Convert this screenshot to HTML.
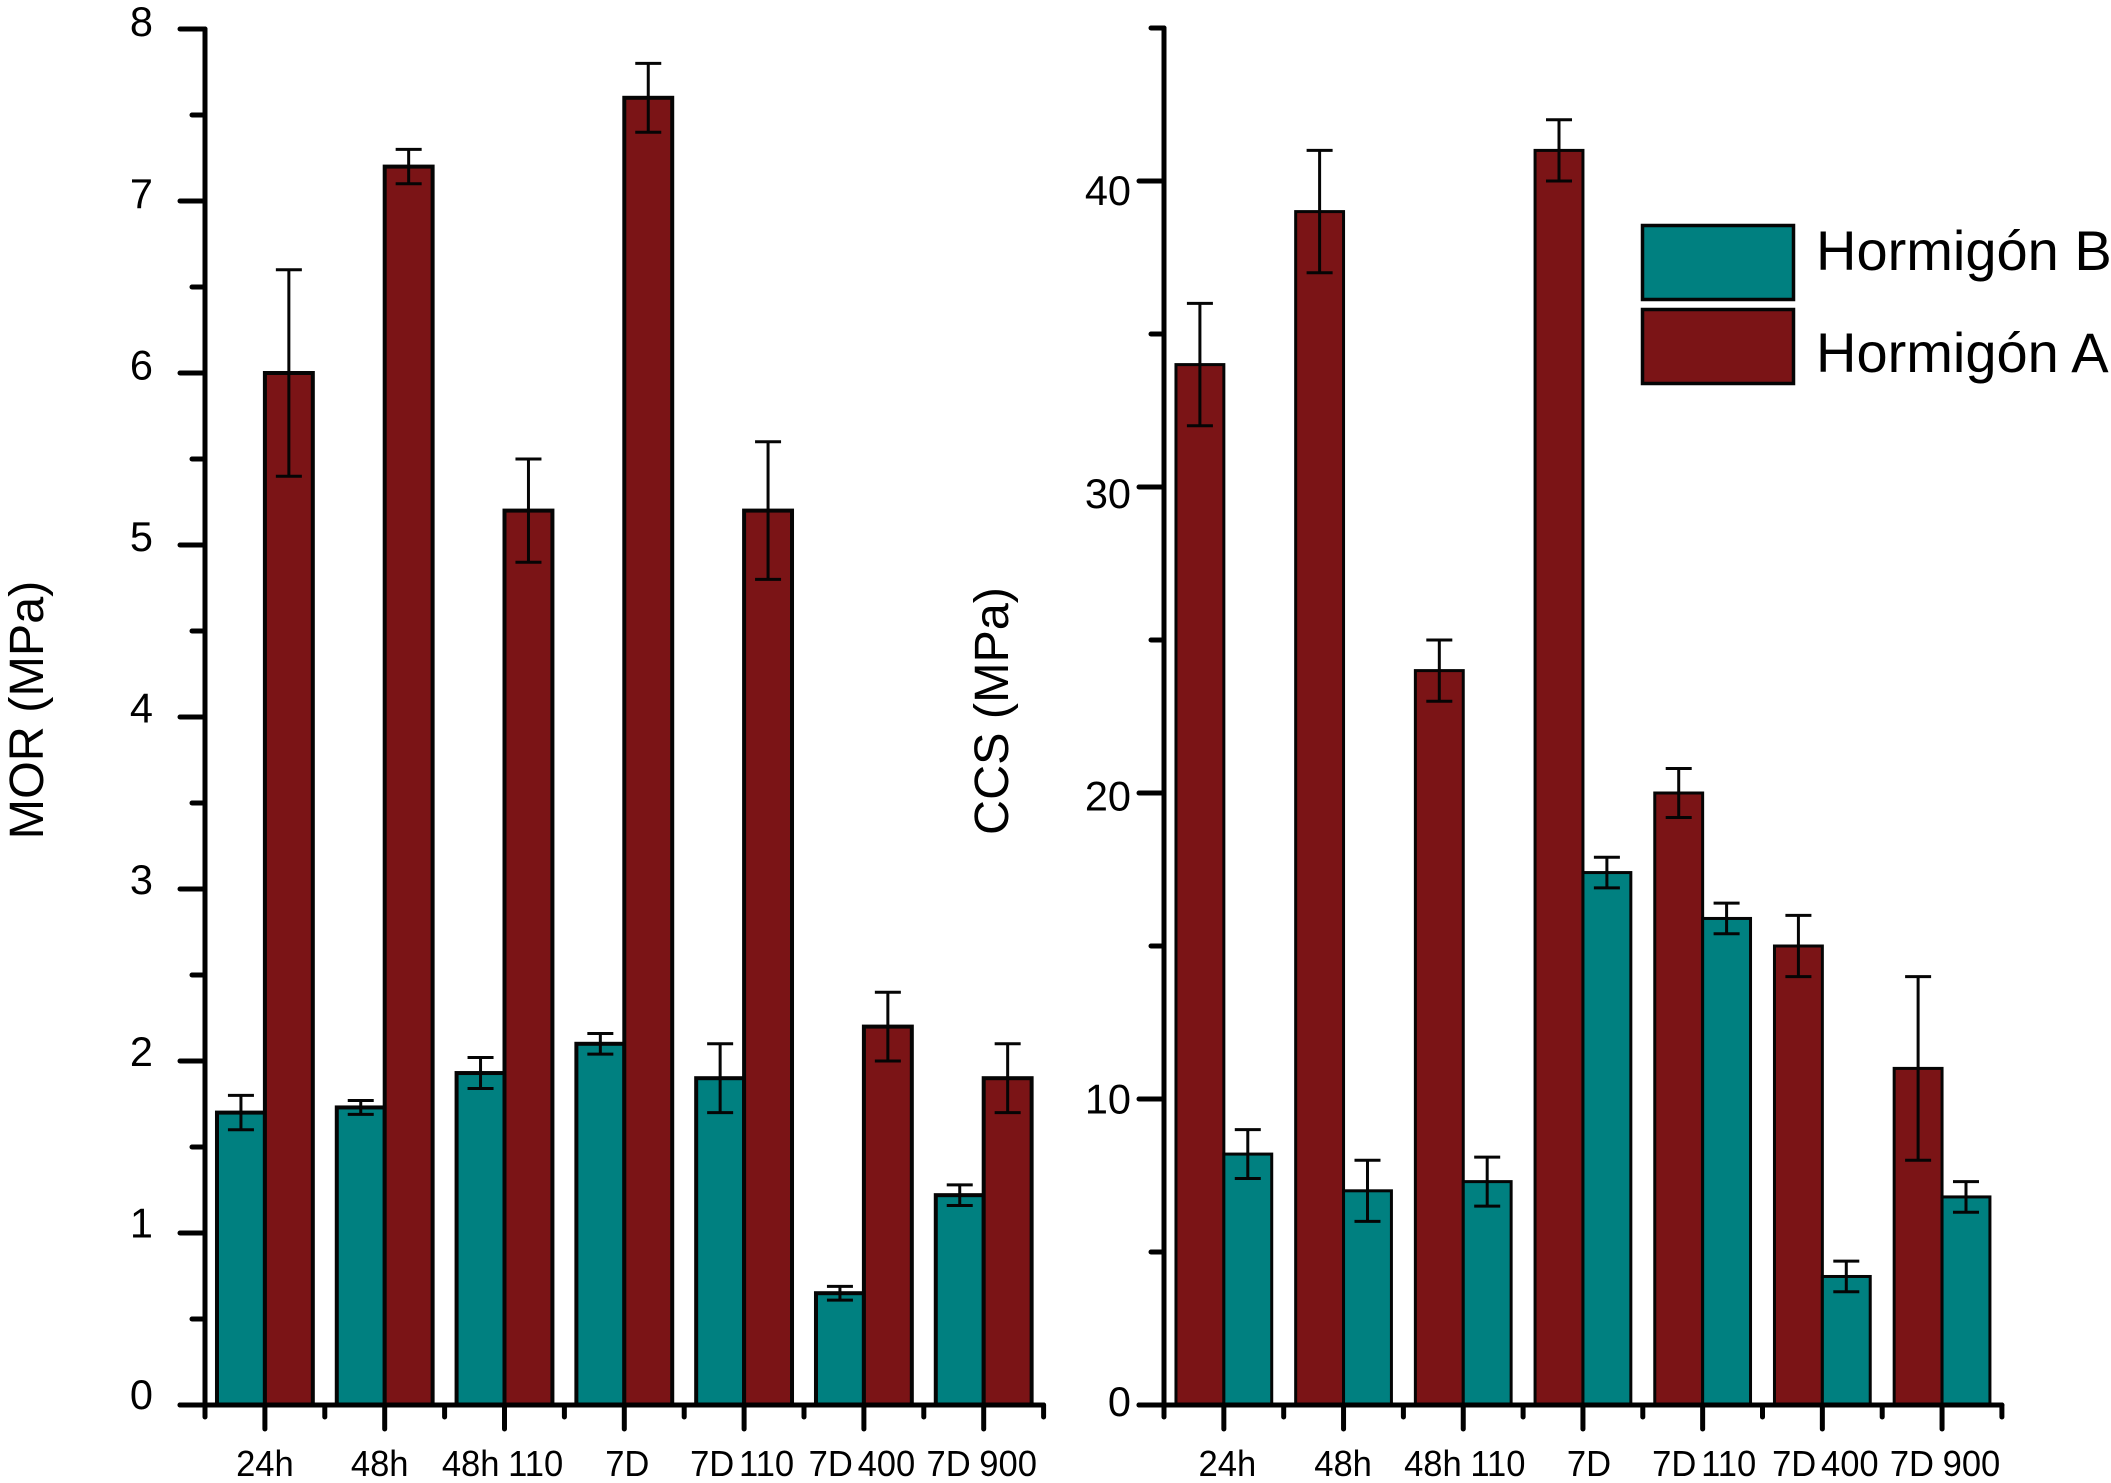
<!DOCTYPE html>
<html lang="es">
<head>
<meta charset="utf-8">
<title>MOR and CCS of Hormigón A and B</title>
<style>
html,body{margin:0;padding:0;background:#fff;}
svg{display:block;}
text{font-family:"Liberation Sans",sans-serif;fill:#000;}
</style>
</head>
<body>
<svg id="figure" xmlns="http://www.w3.org/2000/svg" width="2111" height="1483" viewBox="0 0 2111 1483">
  <g id="left-chart"></g>
  <g id="right-chart"></g>
  <text transform="translate(43 710) rotate(-90)" text-anchor="middle" font-size="48.5">MOR (MPa)</text>
  <text transform="translate(1008 711) rotate(-90)" text-anchor="middle" font-size="48.5">CCS (MPa)</text>
  <g>
    <rect x="1642.5" y="225.5" width="151" height="74" fill="#008080" stroke="#050505" stroke-width="3.5"/>
    <text x="1816" y="270" font-size="56">Hormigón B</text>
    <rect x="1642.5" y="309.5" width="151" height="74" fill="#7b1416" stroke="#050505" stroke-width="3.5"/>
    <text x="1816" y="372" font-size="56">Hormigón A</text>
  </g>
</svg>
<script>
const categories = ["24h", "48h", "48h 110", "7D", "7D 110", "7D 400", "7D 900"];

const morA = [6, 7.2, 5.2, 7.6, 5.2, 2.2, 1.9];
const morAUpper = [6.6, 7.3, 5.5, 7.8, 5.6, 2.4, 2.1];
const morALower = [5.4, 7.1, 4.9, 7.4, 4.8, 2.0, 1.7];
const morB = [1.7, 1.73, 1.93, 2.1, 1.9, 0.65, 1.22];
const morBUpper = [1.8, 1.77, 2.02, 2.16, 2.1, 0.69, 1.28];
const morBLower = [1.6, 1.69, 1.84, 2.04, 1.7, 0.61, 1.16];
const morMajorTicks = [0, 1, 2, 3, 4, 5, 6, 7, 8];
const morMinorTicks = [0.5, 1.5, 2.5, 3.5, 4.5, 5.5, 6.5, 7.5];

const ccsA = [34, 39, 24, 41, 20, 15, 11];
const ccsAUpper = [36, 41, 25, 42, 20.8, 16, 14];
const ccsALower = [32, 37, 23, 40, 19.2, 14, 8];
const ccsB = [8.2, 7, 7.3, 17.4, 15.9, 4.2, 6.8];
const ccsBUpper = [9, 8, 8.1, 17.9, 16.4, 4.7, 7.3];
const ccsBLower = [7.4, 6, 6.5, 16.9, 15.4, 3.7, 6.3];
const ccsMajorTicks = [0, 10, 20, 30, 40];
const ccsMinorTicks = [5, 15, 25, 35, 45];

const NS = "http://www.w3.org/2000/svg";
const INK = "#050505";
const TEAL = "#008080";
const RED = "#7b1416";

function make(parent, tag, attrs, name) {
  const el = document.createElementNS(NS, tag);
  for (const k in attrs) el.setAttribute(k, attrs[k]);
  
  
  parent.appendChild(el);
  return el;
}

function drawChart(cfg) {
  const g = document.getElementById(cfg.id);
  const y = v => cfg.y0 - v * cfg.unit;
  const xCat = i => cfg.x0 + (i + 0.5) * cfg.step;
  const barW = cfg.step * 0.4;

  /* bars */
  cfg.series.forEach(s => {
    s.values.forEach((v, i) => {
      const cx = xCat(i);
      const left = s.side < 0 ? cx - barW : cx;
      make(g, "rect", {x: left, y: y(v), width: barW, height: y(0) - y(v),
        fill: s.color, stroke: INK, "stroke-width": cfg.barStroke}, s.key + "-bar-" + i);
    });
  });

  /* error bars */
  cfg.series.forEach(s => {
    s.values.forEach((v, i) => {
      const ex = xCat(i) + s.side * barW / 2;
      const top = y(s.upper[i]), bot = y(s.lower[i]);
      const eg = make(g, "g", {stroke: INK, "stroke-width": 3, fill: "none"}, s.key + "-error-bar-" + i);
      make(eg, "line", {x1: ex, x2: ex, y1: top, y2: bot}, "error-stem");
      make(eg, "line", {x1: ex - 13, x2: ex + 13, y1: top, y2: top}, "error-cap-upper");
      make(eg, "line", {x1: ex - 13, x2: ex + 13, y1: bot, y2: bot}, "error-cap-lower");
    });
  });

  /* axes */
  const ax = make(g, "g", {stroke: "#000", "stroke-width": 5, "stroke-linecap": "round", fill: "none"}, cfg.key + "-axes");
  make(ax, "line", {x1: cfg.x0, x2: cfg.x0, y1: y(cfg.yMax), y2: y(0)}, cfg.key + "-y-axis-line");
  make(ax, "line", {x1: cfg.x0 - 25, x2: cfg.x0 + categories.length * cfg.step, y1: y(0), y2: y(0)}, cfg.key + "-x-axis-line");

  cfg.major.forEach(v => {
    make(ax, "line", {x1: cfg.x0 - 25, x2: cfg.x0, y1: y(v), y2: y(v)}, cfg.key + "-y-major-tick");
  });
  cfg.minor.forEach(v => {
    make(ax, "line", {x1: cfg.x0 - 13, x2: cfg.x0, y1: y(v), y2: y(v)}, cfg.key + "-y-minor-tick");
  });
  categories.forEach((c, i) => {
    make(ax, "line", {x1: xCat(i), x2: xCat(i), y1: y(0), y2: y(0) + 24}, cfg.key + "-x-major-tick");
  });
  for (let i = 0; i <= categories.length; i++) {
    const tx = cfg.x0 + i * cfg.step;
    make(ax, "line", {x1: tx, x2: tx, y1: y(0), y2: y(0) + 12}, cfg.key + "-x-minor-tick");
  }

  /* labels */
  cfg.major.forEach(v => {
    const t = make(g, "text", {x: cfg.labelX, y: cfg.labelY(v), "text-anchor": "end", "font-size": 41.5}, cfg.key + "-y-tick-label");
    t.textContent = String(v);
  });
  categories.forEach((c, i) => {
    const gap = c.startsWith("7D 1") || c.startsWith("7D 4") ? -5 : (c.includes(" ") ? -1 : 0);
    const t = make(g, "text", {
      transform: "translate(" + (xCat(i) + cfg.labelNudge(c)) + " 1476) scale(0.96 1)",
      "text-anchor": "middle", "font-size": 36, "word-spacing": gap
    }, cfg.key + "-x-tick-label");
    t.textContent = c;
  });
}

drawChart({
  id: "left-chart", key: "mor",
  x0: 205, step: 119.8, y0: 1405, unit: 172, yMax: 8, barStroke: 4,
  major: morMajorTicks, minor: morMinorTicks,
  labelX: 153, labelY: v => 1409 - v * 171.6,
  labelNudge: c => c === "24h" ? 0 : c === "48h" ? -5 : c === "7D" ? 3 : -2,
  series: [
    {key: "mor-hormigon-b", color: TEAL, side: -1, values: morB, upper: morBUpper, lower: morBLower},
    {key: "mor-hormigon-a", color: RED, side: 1, values: morA, upper: morAUpper, lower: morALower}
  ]
});

drawChart({
  id: "right-chart", key: "ccs",
  x0: 1164, step: 119.7, y0: 1405, unit: 30.6, yMax: 45, barStroke: 3,
  major: ccsMajorTicks, minor: ccsMinorTicks,
  labelX: 1131, labelY: v => 1416 - v * 30.27,
  labelNudge: c => c === "24h" ? 3.5 : c === "48h" ? -0.5 : c === "7D" ? 6 : (c === "7D 400" || c === "7D 900") ? 3 : 1.5,
  series: [
    {key: "ccs-hormigon-a", color: RED, side: -1, values: ccsA, upper: ccsAUpper, lower: ccsALower},
    {key: "ccs-hormigon-b", color: TEAL, side: 1, values: ccsB, upper: ccsBUpper, lower: ccsBLower}
  ]
});
</script>
</body>
</html>
